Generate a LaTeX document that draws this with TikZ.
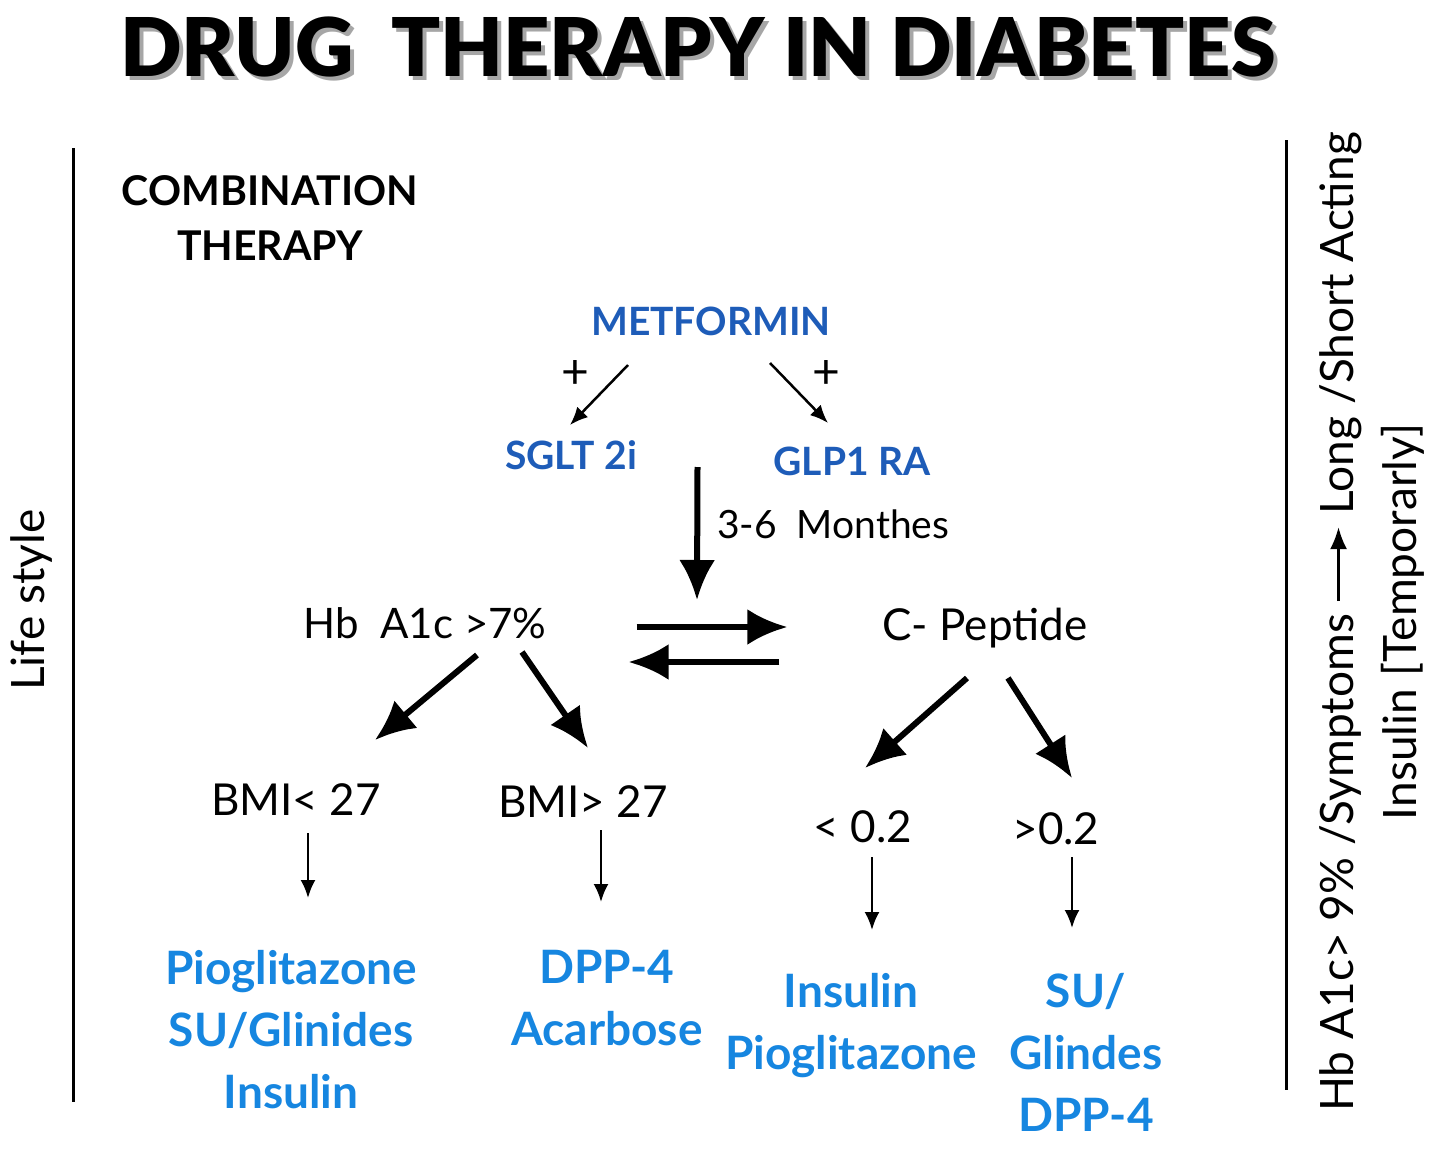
\documentclass[tikz,border=0pt]{standalone}
\usepackage{fontspec}
\setmainfont{Lato}
\newfontfamily\heavyfont{Lato Black}
\usetikzlibrary{arrows.meta,calc}
\definecolor{drugD}{HTML}{1E5CB8}
\definecolor{drugL}{HTML}{1686E0}

\begin{document}
\begin{tikzpicture}[
  x=1pt,y=-1pt,
  every node/.style={align=center,inner sep=0pt},
  txt/.style={font=\fontsize{44}{52}\selectfont},
  hdr/.style={font=\bfseries\fontsize{41}{55}\selectfont},
  drug/.style={text=drugD,font=\bfseries\fontsize{39}{48}\selectfont},
  cure/.style={text=drugL,font=\bfseries\fontsize{46}{62}\selectfont},
  ttl/.style={font=\heavyfont\fontsize{81}{90}\selectfont},
  side/.style={font=\fontsize{46}{63}\selectfont,rotate=90},
  thin/.style={-{Latex[length=18pt,width=15pt]},line width=2.5pt},
  bold/.style={-{Latex[length=40pt,width=36pt]},line width=6pt},
  rule/.style={line width=3pt}
]
\useasboundingbox (0,0) rectangle (1437,1151);

% title with its shadow
\node[ttl,text=black!35] (ttlsh) at (702,51) {DRUG\ \ THERAPY IN DIABETES};
\node[ttl]               (title) at (698,47) {DRUG\ \ THERAPY IN DIABETES};

% side rules and labels
\draw[rule] (73,148) -- (73,1102);
\draw[rule] (1286,140) -- (1286,1090);
\node[txt,rotate=90,font=\fontsize{46}{52}\selectfont] (life) at (32,600) {Life style};
\node[side] (acute) at (1372,622)
  {Hb A1c> 9\% /Symptoms
   \tikz[baseline=-15pt]\draw[-{Latex[length=22pt,width=17pt]},line width=2.5pt] (0pt,0pt) -- (74pt,0pt);
   Long /Short Acting\\Insulin [Temporarly]};

\node[hdr] (combo) at (270,218) {COMBINATION\\THERAPY};

% metformin step
\node[drug] (met)  at (711,321) {METFORMIN};
\node[drug] (sglt) at (571,455) {SGLT 2i};
\node[drug] (glp)  at (852,461) {GLP1 RA};
\node[txt,font=\fontsize{48}{50}\selectfont] (plusL) at (575,375) {+};
\node[txt,font=\fontsize{48}{50}\selectfont] (plusR) at (826,375) {+};
\draw[thin] ($(met)+(-83,44)$) -- ($(sglt)+(-1,-30)$);
\draw[thin] ($(met)+(59,42)$)  -- ($(glp)+(-24,-38)$);

% control after 3-6 months
\node[txt,anchor=west,font=\fontsize{39}{48}\selectfont] (months) at (717,524) {3-6\ \ Monthes};
\node[txt,font=\fontsize{42}{48}\selectfont] (hba)  at (425,623) {Hb\ \ A1c >7\%};
\node[txt] (cpep) at (985,628) {C- Peptide};
\draw[bold] ($(sglt)!0.5!(glp)+(-14,9)$) -- ($(months.west)+(-20,76)$);
\draw[bold] ($(hba.east)+(90,4)$)   -- ($(cpep.west)+(-95,-1)$);
\draw[bold] ($(cpep.west)+(-103,34)$) -- ($(hba.east)+(82,39)$);

% branches
\node[txt] (bmiL) at (296,800) {BMI< 27};
\node[txt] (bmiH) at (583,802) {BMI> 27};
\node[txt] (lo)   at (863,827) {< 0.2};
\node[txt] (hi)   at (1056,829) {>0.2};
\draw[bold] ($(hba)+(52,32)$)  -- ($(bmiL)+(79,-60)$);
\draw[bold] ($(hba)+(97,29)$)  -- ($(bmiH)+(5,-54)$);
\draw[bold] ($(cpep)+(-18,50)$) -- ($(lo)+(2,-59)$);
\draw[bold] ($(cpep)+(23,50)$)  -- ($(hi)+(16,-51)$);

% drug choices
\node[cure,anchor=north] (cureA) at (291,950)  {Pioglitazone\\SU/Glinides\\Insulin};
\node[cure,anchor=north] (cureB) at (607,950)  {DPP-4\\Acarbose};
\node[cure,anchor=north] (cureC) at (851,973)  {Insulin\\Pioglitazone};
\node[cure,anchor=north] (cureD) at (1086,973) {SU/\\Glindes\\DPP-4};
\draw[thin] ($(bmiL)+(12,33)$) -- ($(cureA.north)+(17,-52)$);
\draw[thin] ($(bmiH)+(18,28)$) -- ($(cureB.north)+(-6,-48)$);
\draw[thin] ($(lo)+(9,30)$)    -- ($(cureC.north)+(21,-43)$);
\draw[thin] ($(hi)+(16,28)$)   -- ($(cureD.north)+(-14,-45)$);
\end{tikzpicture}
\end{document}
